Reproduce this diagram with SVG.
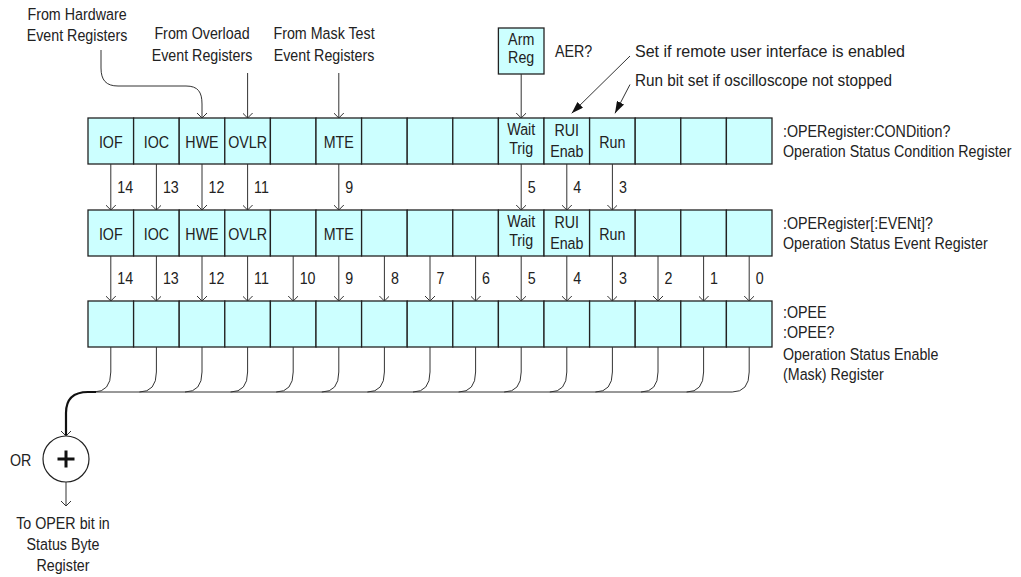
<svg xmlns="http://www.w3.org/2000/svg" width="1021" height="577" viewBox="0 0 1021 577">
<style>
.t{font-family:"Liberation Sans",Arial,sans-serif;font-size:17px;fill:#222;transform:scaleX(0.84);transform-box:fill-box;transform-origin:0% 50%}
.m{text-anchor:middle;transform-origin:50% 50%}
.w{font-family:"Liberation Sans",Arial,sans-serif;font-size:17px;fill:#222}
.c{fill:#ccffff;stroke:#222;stroke-width:1.3}
.ln{fill:none;stroke:#333;stroke-width:1}
.ar{marker-end:url(#v)}
.thick{fill:none;stroke:#111;stroke-width:2.2}
</style>
<defs>
<marker id="v" viewBox="0 0 10 10" refX="10" refY="5" markerWidth="10" markerHeight="10" markerUnits="userSpaceOnUse" orient="auto">
<path d="M5,0 L10,5 L5,10" fill="none" stroke="#333" stroke-width="1"/>
</marker>
<marker id="f" viewBox="0 0 12 8" refX="12" refY="4" markerWidth="12" markerHeight="8" markerUnits="userSpaceOnUse" orient="auto">
<path d="M0,0 L12,4 L0,8 z" fill="#111"/>
</marker>
</defs>

<g id="labels-top">
<text class="t m" x="77" y="20">From Hardware</text>
<text class="t m" x="77" y="41">Event Registers</text>
<text class="t m" x="202" y="39.5">From Overload</text>
<text class="t m" x="202" y="61">Event Registers</text>
<text class="t m" x="324" y="39.5">From Mask Test</text>
<text class="t m" x="324" y="61">Event Registers</text>
<text class="t" x="555" y="57">AER?</text>
<text class="w" x="635" y="57" textLength="270" lengthAdjust="spacingAndGlyphs">Set if remote user interface is enabled</text>
<text class="w" x="635" y="86" textLength="257" lengthAdjust="spacingAndGlyphs">Run bit set if oscilloscope not stopped</text>
</g>

<g id="arm-reg">
<rect class="c" x="498.4" y="28" width="45.6" height="46"/>
<text class="t m" x="521.2" y="45">Arm</text>
<text class="t m" x="521.2" y="63">Reg</text>
</g>

<g id="cond-14"><rect class="c" x="88" y="118" width="45.6" height="46"/><text class="t m" x="110.8" y="148">IOF</text></g>
<g id="cond-13"><rect class="c" x="133.6" y="118" width="45.6" height="46"/><text class="t m" x="156.4" y="148">IOC</text></g>
<g id="cond-12"><rect class="c" x="179.2" y="118" width="45.6" height="46"/><text class="t m" x="202" y="148">HWE</text></g>
<g id="cond-11"><rect class="c" x="224.8" y="118" width="45.6" height="46"/><text class="t m" x="247.6" y="148">OVLR</text></g>
<g id="cond-10"><rect class="c" x="270.4" y="118" width="45.6" height="46"/></g>
<g id="cond-9"><rect class="c" x="316" y="118" width="45.6" height="46"/><text class="t m" x="338.8" y="148">MTE</text></g>
<g id="cond-8"><rect class="c" x="361.6" y="118" width="45.6" height="46"/></g>
<g id="cond-7"><rect class="c" x="407.2" y="118" width="45.6" height="46"/></g>
<g id="cond-6"><rect class="c" x="452.8" y="118" width="45.6" height="46"/></g>
<g id="cond-5"><rect class="c" x="498.4" y="118" width="45.6" height="46"/><text class="t m" x="521.2" y="135">Wait</text><text class="t m" x="521.2" y="154">Trig</text></g>
<g id="cond-4"><rect class="c" x="544" y="118" width="45.6" height="46"/><text class="t m" x="566.8" y="136">RUI</text><text class="t m" x="566.8" y="157">Enab</text></g>
<g id="cond-3"><rect class="c" x="589.6" y="118" width="45.6" height="46"/><text class="t m" x="612.4" y="148">Run</text></g>
<g id="cond-2"><rect class="c" x="635.2" y="118" width="45.6" height="46"/></g>
<g id="cond-1"><rect class="c" x="680.8" y="118" width="45.6" height="46"/></g>
<g id="cond-0"><rect class="c" x="726.4" y="118" width="45.6" height="46"/></g>

<g id="event-14"><rect class="c" x="88" y="210" width="45.6" height="46"/><text class="t m" x="110.8" y="240">IOF</text></g>
<g id="event-13"><rect class="c" x="133.6" y="210" width="45.6" height="46"/><text class="t m" x="156.4" y="240">IOC</text></g>
<g id="event-12"><rect class="c" x="179.2" y="210" width="45.6" height="46"/><text class="t m" x="202" y="240">HWE</text></g>
<g id="event-11"><rect class="c" x="224.8" y="210" width="45.6" height="46"/><text class="t m" x="247.6" y="240">OVLR</text></g>
<g id="event-10"><rect class="c" x="270.4" y="210" width="45.6" height="46"/></g>
<g id="event-9"><rect class="c" x="316" y="210" width="45.6" height="46"/><text class="t m" x="338.8" y="240">MTE</text></g>
<g id="event-8"><rect class="c" x="361.6" y="210" width="45.6" height="46"/></g>
<g id="event-7"><rect class="c" x="407.2" y="210" width="45.6" height="46"/></g>
<g id="event-6"><rect class="c" x="452.8" y="210" width="45.6" height="46"/></g>
<g id="event-5"><rect class="c" x="498.4" y="210" width="45.6" height="46"/><text class="t m" x="521.2" y="227">Wait</text><text class="t m" x="521.2" y="246">Trig</text></g>
<g id="event-4"><rect class="c" x="544" y="210" width="45.6" height="46"/><text class="t m" x="566.8" y="228">RUI</text><text class="t m" x="566.8" y="249">Enab</text></g>
<g id="event-3"><rect class="c" x="589.6" y="210" width="45.6" height="46"/><text class="t m" x="612.4" y="240">Run</text></g>
<g id="event-2"><rect class="c" x="635.2" y="210" width="45.6" height="46"/></g>
<g id="event-1"><rect class="c" x="680.8" y="210" width="45.6" height="46"/></g>
<g id="event-0"><rect class="c" x="726.4" y="210" width="45.6" height="46"/></g>

<g id="enable-14"><rect class="c" x="88" y="301" width="45.6" height="46"/></g>
<g id="enable-13"><rect class="c" x="133.6" y="301" width="45.6" height="46"/></g>
<g id="enable-12"><rect class="c" x="179.2" y="301" width="45.6" height="46"/></g>
<g id="enable-11"><rect class="c" x="224.8" y="301" width="45.6" height="46"/></g>
<g id="enable-10"><rect class="c" x="270.4" y="301" width="45.6" height="46"/></g>
<g id="enable-9"><rect class="c" x="316" y="301" width="45.6" height="46"/></g>
<g id="enable-8"><rect class="c" x="361.6" y="301" width="45.6" height="46"/></g>
<g id="enable-7"><rect class="c" x="407.2" y="301" width="45.6" height="46"/></g>
<g id="enable-6"><rect class="c" x="452.8" y="301" width="45.6" height="46"/></g>
<g id="enable-5"><rect class="c" x="498.4" y="301" width="45.6" height="46"/></g>
<g id="enable-4"><rect class="c" x="544" y="301" width="45.6" height="46"/></g>
<g id="enable-3"><rect class="c" x="589.6" y="301" width="45.6" height="46"/></g>
<g id="enable-2"><rect class="c" x="635.2" y="301" width="45.6" height="46"/></g>
<g id="enable-1"><rect class="c" x="680.8" y="301" width="45.6" height="46"/></g>
<g id="enable-0"><rect class="c" x="726.4" y="301" width="45.6" height="46"/></g>

<g id="labels-right">
<text class="t" x="783" y="137">:OPERegister:CONDition?</text>
<text class="t" x="783" y="157">Operation Status Condition Register</text>
<text class="t" x="783" y="229">:OPERegister[:EVENt]?</text>
<text class="t" x="783" y="249">Operation Status Event Register</text>
<text class="t" x="783" y="318">:OPEE</text>
<text class="t" x="783" y="338">:OPEE?</text>
<text class="t" x="783" y="360">Operation Status Enable</text>
<text class="t" x="783" y="380">(Mask) Register</text>
</g>

<g id="or-gate">
<circle cx="66" cy="459" r="23" fill="#fff" stroke="#222" stroke-width="1.2"/>
<path d="M57.5,459H74.5M66,450.5V467.5" stroke="#111" stroke-width="3" fill="none"/>
<text class="t" x="10" y="466">OR</text>
</g>

<g id="output-label">
<text class="t m" x="63" y="529">To OPER bit in</text>
<text class="t m" x="63" y="550">Status Byte</text>
<text class="t m" x="63" y="571">Register</text>
</g>

<g id="connectors">
<path class="ln ar" d="M101,50V68C101,80 106,86 118,86H186C198,86 202,92 202,104V118"/>
<path class="ln ar" d="M247.6,73V118"/>
<path class="ln ar" d="M338.8,73V118"/>
<path class="ln ar" d="M521.2,74V118"/>
<path class="ln" d="M630,56L571.7,113.3" stroke="#111" marker-end="url(#f)"/>
<path class="ln" d="M630,84.5L615,113.3" stroke="#111" marker-end="url(#f)"/>

<path class="ln ar" d="M110.8,164V210"/>
<path class="ln ar" d="M156.4,164V210"/>
<path class="ln ar" d="M202,164V210"/>
<path class="ln ar" d="M247.6,164V210"/>
<path class="ln ar" d="M338.8,164V210"/>
<path class="ln ar" d="M521.2,164V210"/>
<path class="ln ar" d="M566.8,164V210"/>
<path class="ln ar" d="M612.4,164V210"/>

<path class="ln ar" d="M110.8,256V301"/>
<path class="ln ar" d="M156.4,256V301"/>
<path class="ln ar" d="M202,256V301"/>
<path class="ln ar" d="M247.6,256V301"/>
<path class="ln ar" d="M293.2,256V301"/>
<path class="ln ar" d="M338.8,256V301"/>
<path class="ln ar" d="M384.4,256V301"/>
<path class="ln ar" d="M430,256V301"/>
<path class="ln ar" d="M475.6,256V301"/>
<path class="ln ar" d="M521.2,256V301"/>
<path class="ln ar" d="M566.8,256V301"/>
<path class="ln ar" d="M612.4,256V301"/>
<path class="ln ar" d="M658,256V301"/>
<path class="ln ar" d="M703.6,256V301"/>
<path class="ln ar" d="M749.2,256V301"/>

<path class="ln" d="M110.8,347V372Q110.8,392 93.8,392"/>
<path class="ln" d="M156.4,347V372Q156.4,392 139.4,392"/>
<path class="ln" d="M202,347V372Q202,392 185,392"/>
<path class="ln" d="M247.6,347V372Q247.6,392 230.6,392"/>
<path class="ln" d="M293.2,347V372Q293.2,392 276.2,392"/>
<path class="ln" d="M338.8,347V372Q338.8,392 321.8,392"/>
<path class="ln" d="M384.4,347V372Q384.4,392 367.4,392"/>
<path class="ln" d="M430,347V372Q430,392 413,392"/>
<path class="ln" d="M475.6,347V372Q475.6,392 458.6,392"/>
<path class="ln" d="M521.2,347V372Q521.2,392 504.2,392"/>
<path class="ln" d="M566.8,347V372Q566.8,392 549.8,392"/>
<path class="ln" d="M612.4,347V372Q612.4,392 595.4,392"/>
<path class="ln" d="M658,347V372Q658,392 641,392"/>
<path class="ln" d="M703.6,347V372Q703.6,392 686.6,392"/>
<path class="ln" d="M749.2,347V372Q749.2,392 732.2,392"/>
<path class="ln" d="M94,392H732.2"/>
<path class="thick ar" d="M96,392H88C74,392 66,399 66,413V436"/>
<path class="ln ar" d="M66,482V506"/>
</g>

<g id="bit-numbers">
<text class="t" x="117.3" y="193">14</text>
<text class="t" x="162.9" y="193">13</text>
<text class="t" x="208.5" y="193">12</text>
<text class="t" x="254.1" y="193">11</text>
<text class="t" x="345.3" y="193">9</text>
<text class="t" x="527.7" y="193">5</text>
<text class="t" x="573.3" y="193">4</text>
<text class="t" x="618.9" y="193">3</text>
<text class="t" x="117.3" y="284">14</text>
<text class="t" x="162.9" y="284">13</text>
<text class="t" x="208.5" y="284">12</text>
<text class="t" x="254.1" y="284">11</text>
<text class="t" x="299.7" y="284">10</text>
<text class="t" x="345.3" y="284">9</text>
<text class="t" x="390.9" y="284">8</text>
<text class="t" x="436.5" y="284">7</text>
<text class="t" x="482.1" y="284">6</text>
<text class="t" x="527.7" y="284">5</text>
<text class="t" x="573.3" y="284">4</text>
<text class="t" x="618.9" y="284">3</text>
<text class="t" x="664.5" y="284">2</text>
<text class="t" x="710.1" y="284">1</text>
<text class="t" x="755.7" y="284">0</text>
</g>
</svg>
